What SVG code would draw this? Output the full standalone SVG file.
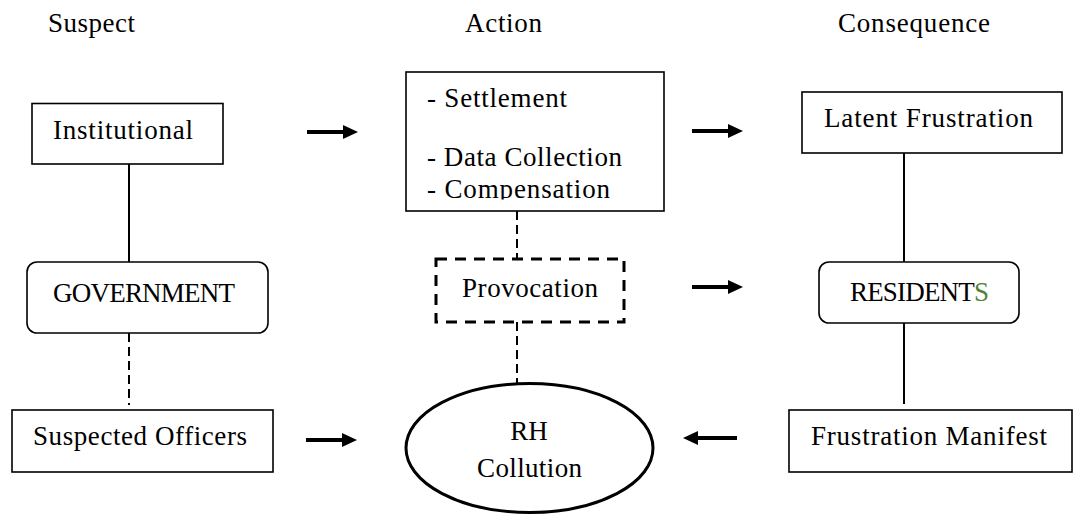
<svg xmlns="http://www.w3.org/2000/svg" width="1073" height="515" viewBox="0 0 1073 515">
<style>
  text { font-family: "Liberation Serif", "Times New Roman", serif; font-size: 27px; fill: #000; }
  .box { fill: #fff; stroke: #000; stroke-width: 1.6; }
  .thick { fill: #fff; stroke: #000; stroke-width: 3; }
  .dbox { fill: #fff; stroke: #000; stroke-width: 3; stroke-dasharray: 11 8; }
  .solid { stroke: #000; stroke-width: 2; fill: none; }
  .dash { stroke: #000; stroke-width: 2; fill: none; stroke-dasharray: 9 5; }
  .arrow { stroke: #000; stroke-width: 4; fill: none; marker-end: url(#head); }
  .mid { text-anchor: middle; }
</style>
<defs>
  <marker id="head" markerUnits="userSpaceOnUse" viewBox="0 -7 15 14" refX="0" refY="0" markerWidth="15" markerHeight="14" orient="auto">
    <path d="M0,-7 L15,0 L0,7 Z" fill="#000"/>
  </marker>
  <clipPath id="actClip"><rect x="406" y="72" width="259" height="127.5"/></clipPath>
</defs>
<rect width="1073" height="515" fill="#fff"/>

<g id="headers">
  <text x="48" y="32" textLength="87" lengthAdjust="spacing">Suspect</text>
  <text x="465" y="32" textLength="77" lengthAdjust="spacing">Action</text>
  <text x="838" y="32" textLength="152" lengthAdjust="spacing">Consequence</text>
</g>

<g id="connectors">
  <line class="solid" x1="129" y1="164" x2="129" y2="262"/>
  <line class="dash" x1="129" y1="333" x2="129" y2="405"/>
  <line class="dash" x1="517" y1="211" x2="517" y2="259"/>
  <line class="dash" x1="517" y1="322" x2="517" y2="383"/>
  <line class="solid" x1="904" y1="153" x2="904" y2="262"/>
  <line class="solid" x1="904" y1="323" x2="904" y2="404"/>
  <line class="arrow" x1="307" y1="132" x2="343" y2="132"/>
  <line class="arrow" x1="692" y1="131" x2="728" y2="131"/>
  <line class="arrow" x1="692" y1="287" x2="728" y2="287"/>
  <line class="arrow" x1="306" y1="440" x2="342" y2="440"/>
  <line class="arrow" x1="737" y1="438" x2="698" y2="438"/>
</g>

<g id="institutional">
  <rect class="box" x="32" y="103.5" width="191" height="60.5"/>
  <text x="53" y="139" textLength="140" lengthAdjust="spacing">Institutional</text>
</g>

<g id="government">
  <rect class="box" x="27" y="262" width="241" height="71" rx="10" ry="10"/>
  <text x="53" y="302" textLength="182" lengthAdjust="spacing">GOVERNMENT</text>
</g>

<g id="suspected-officers">
  <rect class="box" x="12" y="410" width="261" height="62"/>
  <text x="33" y="445" textLength="214" lengthAdjust="spacing">Suspected Officers</text>
</g>

<g id="action">
  <rect class="box" x="406" y="72" width="258" height="139"/>
  <g clip-path="url(#actClip)">
    <text x="427" y="107" textLength="140" lengthAdjust="spacing">- Settlement</text>
    <text x="427" y="166" textLength="195" lengthAdjust="spacing">- Data Collection</text>
    <text x="427" y="198" textLength="183" lengthAdjust="spacing">- Compensation</text>
  </g>
</g>

<g id="provocation">
  <rect class="dbox" x="436" y="259" width="188" height="63"/>
  <text x="462" y="297" textLength="136" lengthAdjust="spacing">Provocation</text>
</g>

<g id="rh-collution">
  <ellipse class="thick" cx="529.5" cy="448" rx="123.5" ry="64.5"/>
  <text class="mid" x="529" y="440">RH</text>
  <text x="477" y="477" textLength="105" lengthAdjust="spacing">Collution</text>
</g>

<g id="latent-frustration">
  <rect class="box" x="802" y="92" width="260" height="61"/>
  <text x="824" y="127" textLength="209" lengthAdjust="spacing">Latent Frustration</text>
</g>

<g id="residents">
  <rect class="box" x="819" y="262" width="200" height="61" rx="10" ry="10"/>
  <text x="850" y="301" textLength="139" lengthAdjust="spacing">RESIDENT<tspan fill="#538135">S</tspan></text>
</g>

<g id="frustration-manifest">
  <rect class="box" x="789" y="410" width="283" height="62"/>
  <text x="811" y="445" textLength="236" lengthAdjust="spacing">Frustration Manifest</text>
</g>
</svg>
